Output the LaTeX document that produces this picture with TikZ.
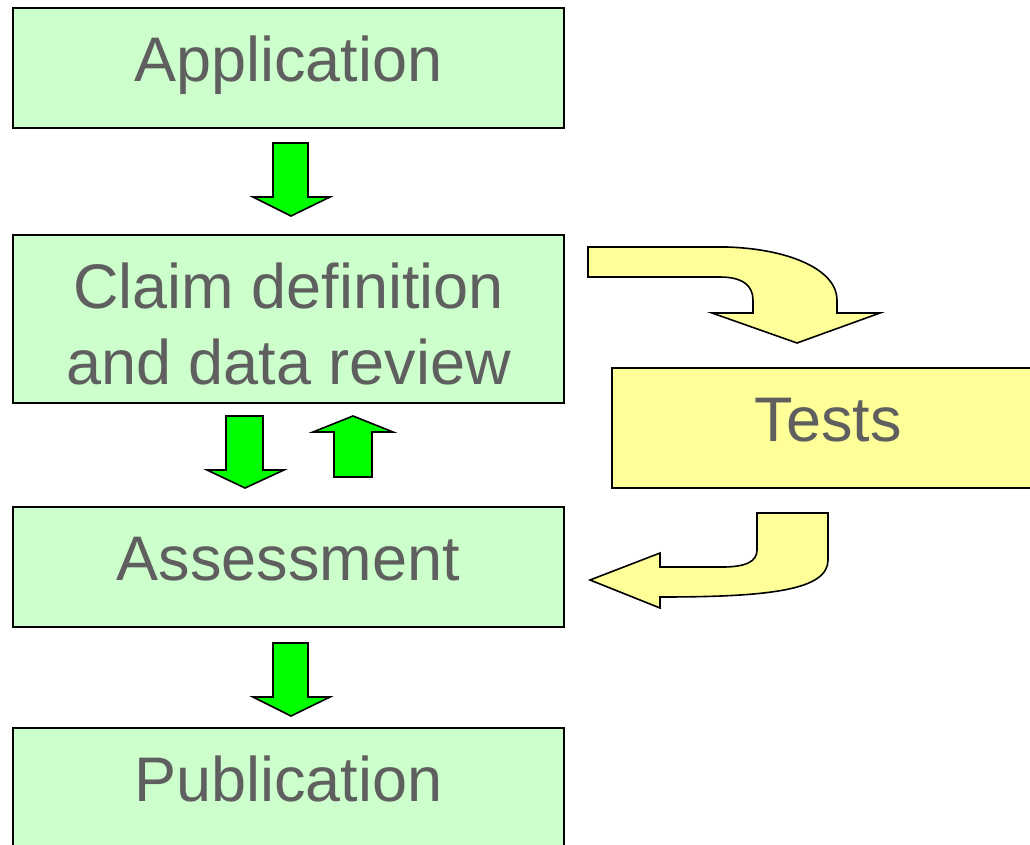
\documentclass[tikz,border=0pt]{standalone}
\usepackage{fontspec}
\setmainfont{Liberation Sans}
\definecolor{boxgreen}{HTML}{CCFFCC}
\definecolor{boxyellow}{HTML}{FFFF99}
\definecolor{arrowgreen}{HTML}{00FF00}
\definecolor{txtgray}{HTML}{5F5F5F}
\begin{document}
\begin{tikzpicture}[x=1pt,y=-1pt,
  gbox/.style={draw=black, line width=2.2pt, fill=boxgreen, rectangle,
    minimum width=551, inner sep=0pt, text=txtgray,
    font=\fontsize{63}{76}\selectfont, align=center},
  oneline/.style={text height=46pt, text depth=20pt},
  ybox/.style={gbox, fill=boxyellow, minimum width=432},
  garrow/.style={draw=black, line width=1.6pt, fill=arrowgreen, line join=miter},
  yarrow/.style={draw=black, line width=1.6pt, fill=boxyellow, line join=miter}]
\clip (0,0) rectangle (1030,844);
\fill[white] (0,0) rectangle (1030,844);
% boxes
\node[gbox, oneline, minimum height=120] (app) at (288.5,68) {Application};
\node[gbox, minimum height=168, text height=130pt, text depth=0pt] (claim) at (288.5,319) {Claim definition\\and data review};
\node[gbox, oneline, minimum height=120] (assess) at (288.5,567) {Assessment};
\node[gbox, oneline, minimum height=120] (pub) at (288.5,788) {Publication};
\node[ybox, oneline, minimum height=120] (tests) at (828,428) {Tests};
% green block arrows
\draw[garrow] (273,143) -- (308,143) -- (308,197) -- (330,197) -- (291,216) -- (253,197) -- (273,197) -- cycle;
\draw[garrow] (226,416) -- (263,416) -- (263,470) -- (284,470) -- (245,488) -- (207,470) -- (226,470) -- cycle;
\draw[garrow] (334,477) -- (372,477) -- (372,432) -- (393,432) -- (353,416) -- (313,432) -- (334,432) -- cycle;
\draw[garrow] (273,643) -- (308,643) -- (308,697) -- (330,697) -- (291,716) -- (253,697) -- (273,697) -- cycle;
% yellow curved arrows
\draw[yarrow] (588,247) -- (727,247) .. controls (790,249) and (837,270) .. (837,300)
  -- (837,313) -- (880,313) -- (797,343) -- (712,313) -- (753,313) -- (753,300)
  .. controls (753,286) and (743,277) .. (720,277) -- (588,277) -- cycle;
\draw[yarrow] (757,513) -- (828,513) -- (828,560) .. controls (828,590) and (770,597) .. (660,597)
  -- (660,608) -- (590,580) -- (660,553) -- (660,567) -- (722,567)
  .. controls (745,567) and (757,562) .. (757,550) -- cycle;
\end{tikzpicture}
\end{document}
